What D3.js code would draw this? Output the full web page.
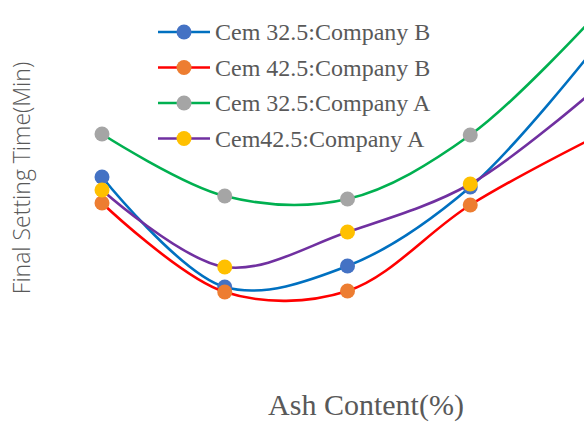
<!DOCTYPE html>
<html><head><meta charset="utf-8">
<script src="https://cdn.jsdelivr.net/npm/d3@7"></script>
<style>body{margin:0;background:#fff}svg{display:block}</style>
</head><body><svg id="c" width="584" height="423"></svg>
<script>
const ashContent = [0, 5, 10, 15, 20];
const seriesNames = ["Cem 32.5:Company B", "Cem 42.5:Company B", "Cem 32.5:Company A", "Cem42.5:Company A"];
const cem325B = [243, 133, 154, 233, 370];
const cem425B = [217, 128, 129, 215, 282];
const cem325A = [286, 224, 221, 285, 402];
const cem425A = [230, 153, 188, 236, 329];
const lineColors = ["#0070C0", "#FF0000", "#00B050", "#7030A0"];
const markerColors = ["#4472C4", "#ED7D31", "#A5A5A5", "#FFC000"];
const allSeries = [cem325B, cem425B, cem325A, cem425A];

const svg = d3.select("#c");
svg.append("rect").attr("width",584).attr("height",423).attr("fill","#fff");
const x = d3.scaleLinear().domain([0,20]).range([102,593]);
const y = d3.scaleLinear().domain([0,400]).range([420,20]);
const line = d3.line().x((d,i)=>x(ashContent[i])).y(d=>y(d)).curve(d3.curveCatmullRom.alpha(0.5));

allSeries.forEach((vals,k)=>{
  svg.append("path").attr("d",line(vals)).attr("fill","none")
    .attr("stroke",lineColors[k]).attr("stroke-width",2.6);
  svg.selectAll(null).data(vals).enter().append("circle")
    .attr("cx",(d,i)=>x(ashContent[i])).attr("cy",d=>y(d)).attr("r",7.5)
    .attr("fill",markerColors[k]);
});

// legend
const lg = svg.append("g");
seriesNames.forEach((n,k)=>{
  const yy = 32 + k*35.5;
  lg.append("line").attr("x1",158).attr("x2",210).attr("y1",yy).attr("y2",yy)
    .attr("stroke",lineColors[k]).attr("stroke-width",2.6);
  lg.append("circle").attr("cx",184).attr("cy",yy).attr("r",7.5).attr("fill",markerColors[k]);
  lg.append("text").attr("x",215).attr("y",yy+8).text(n)
    .attr("font-family","'Liberation Serif', serif").attr("font-size",24).attr("fill","#595959");
});

svg.append("text").attr("transform","translate(30,178) rotate(-90)")
  .attr("text-anchor","middle").text("Final Setting Time(Min)")
  .attr("font-family","'Open Sans', sans-serif").attr("font-weight",300).attr("font-size",23).attr("fill","#595959");

svg.append("text").attr("x",366).attr("y",415).attr("text-anchor","middle")
  .text("Ash Content(%)").attr("font-family","'Liberation Serif', serif")
  .attr("font-size",30).attr("fill","#595959");
</script></body></html>
